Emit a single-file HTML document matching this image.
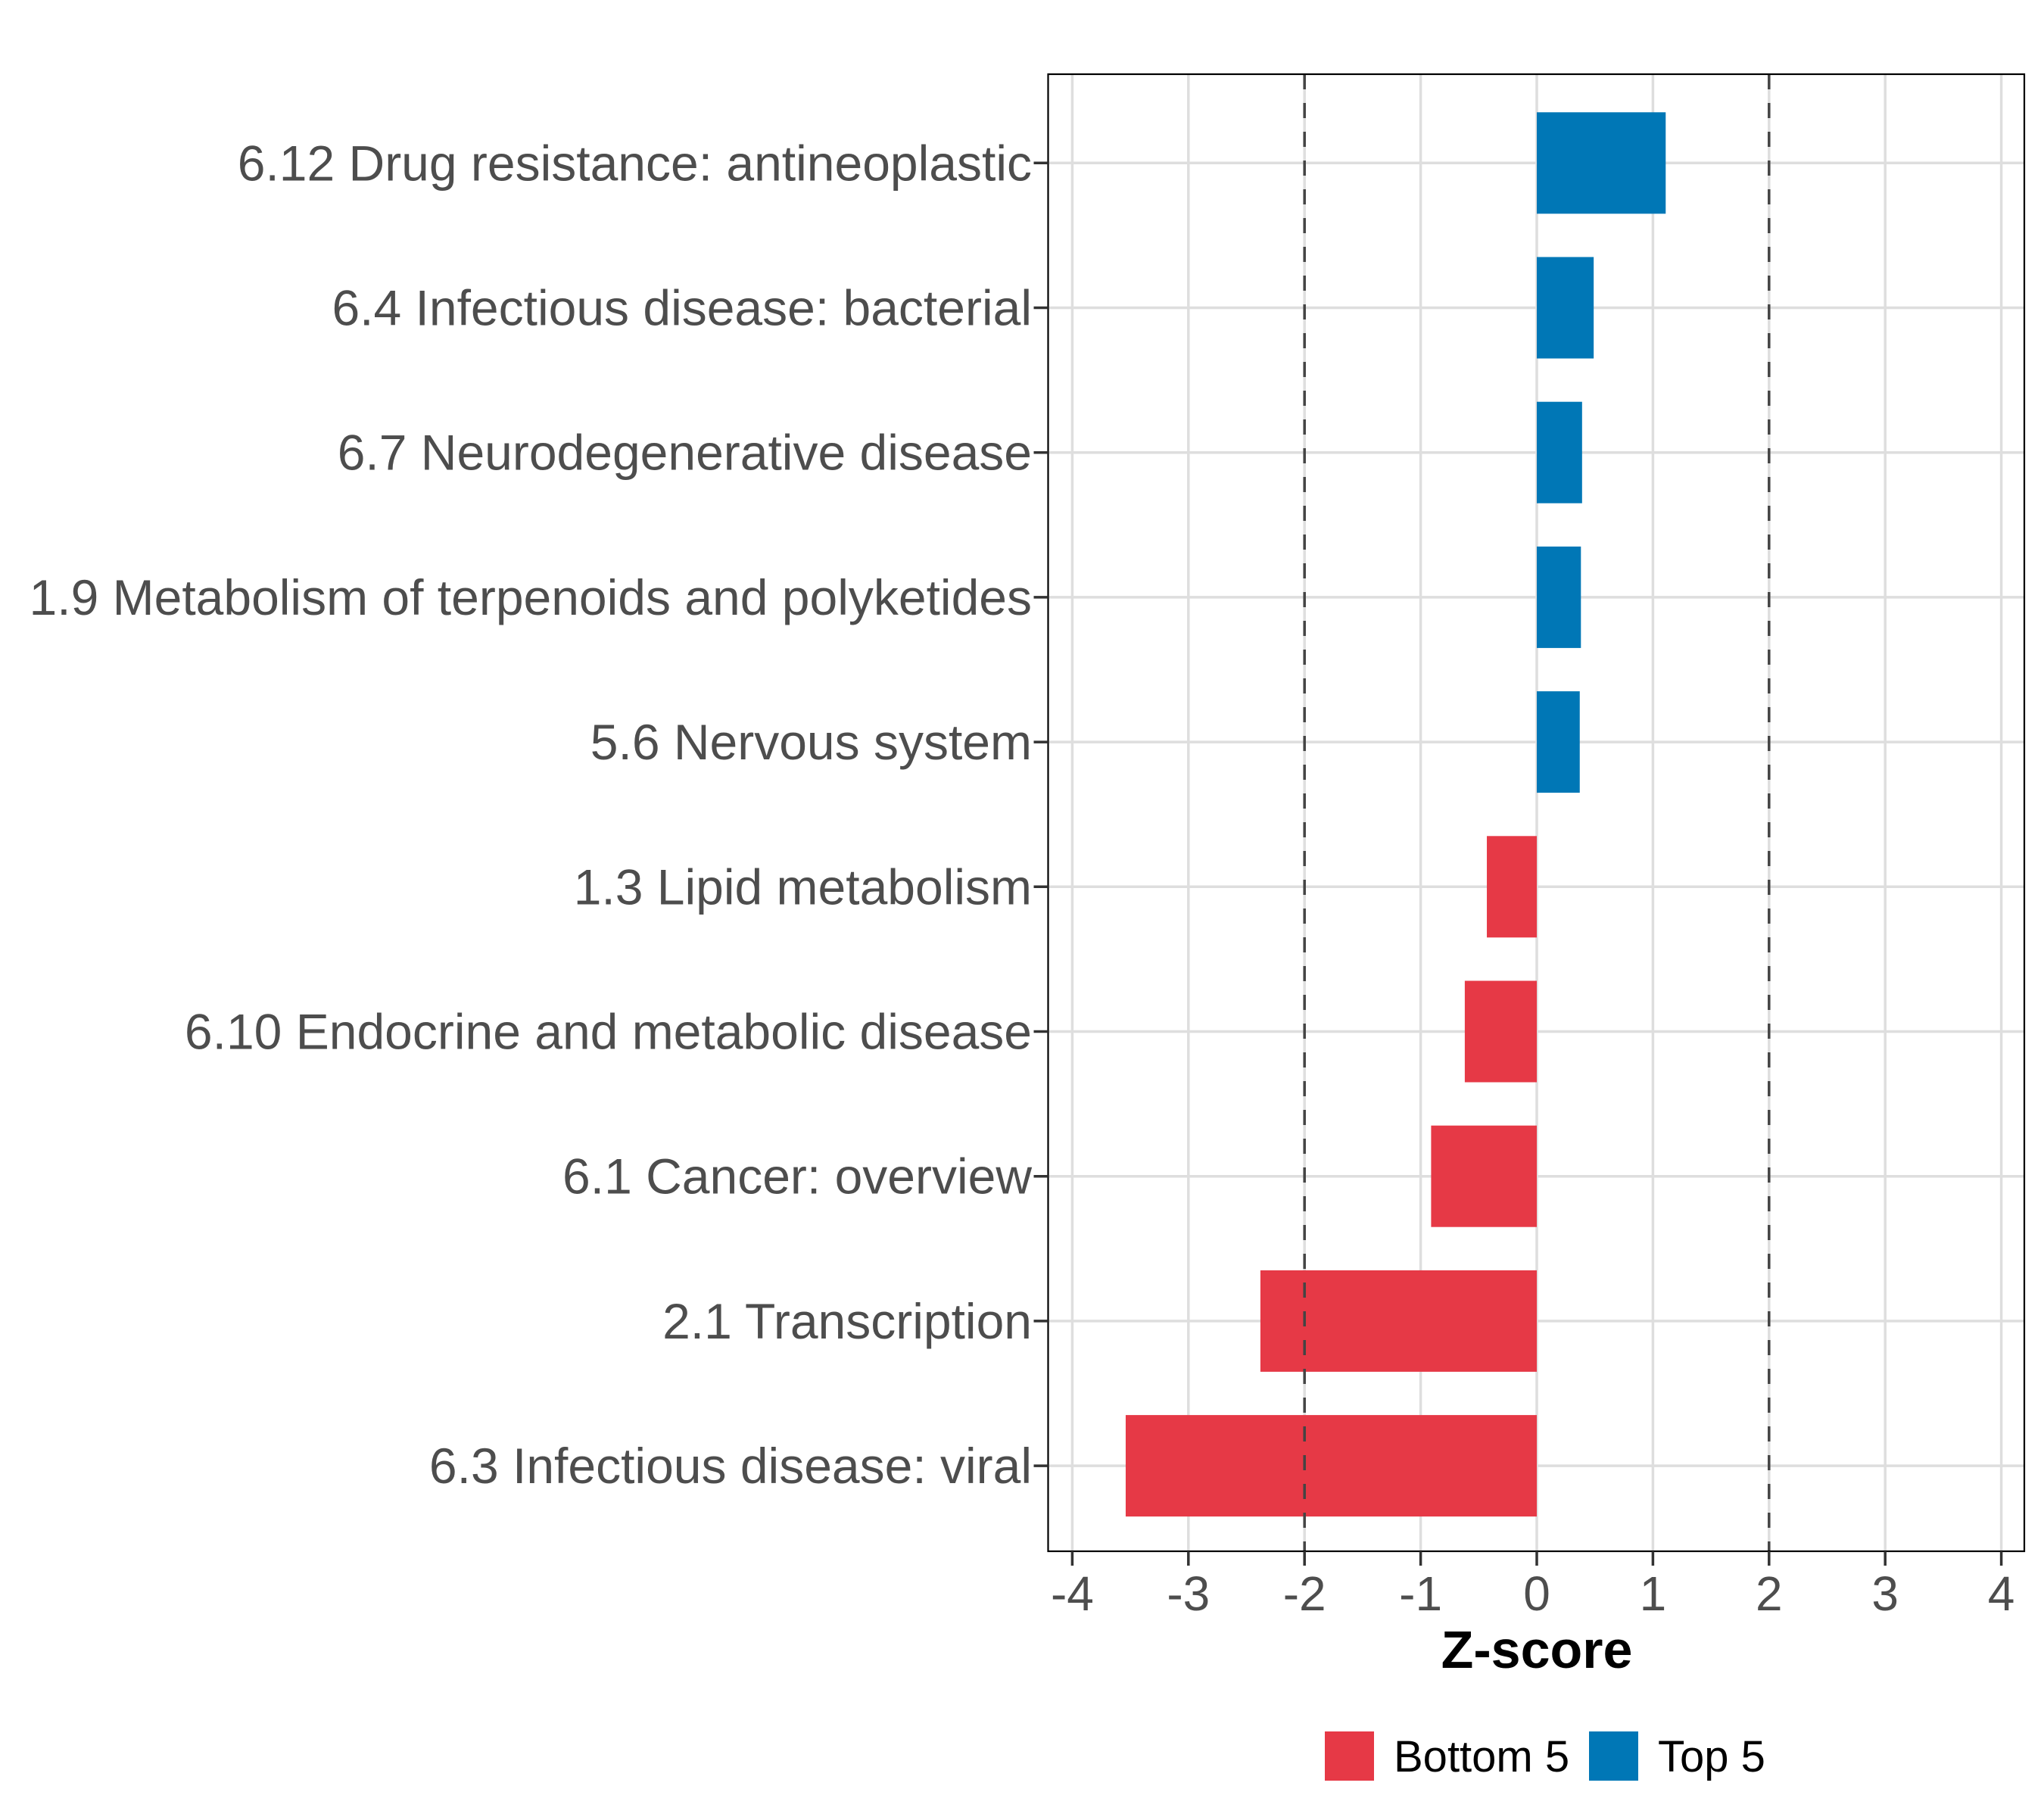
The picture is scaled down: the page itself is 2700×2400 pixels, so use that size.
<!DOCTYPE html>
<html><head><meta charset="utf-8"><style>
html,body{margin:0;padding:0;background:#fff;}
svg{display:block;font-family:"Liberation Sans",Arial,sans-serif;}
</style></head><body>
<svg id="chart" width="2700" height="2400" viewBox="0 0 2700 2400" xmlns="http://www.w3.org/2000/svg">
<g id="grid"></g>
<g id="bars"></g>
<g id="refs"></g>
<rect x="1384.5" y="98" width="1289.5" height="1951" fill="none" stroke="#000" stroke-width="2.2"/>
<g id="yaxis"></g>
<g id="xaxis"></g>
<text x="2030" y="2203" font-size="70" font-weight="bold" text-anchor="middle" fill="#000">Z-score</text>
<g>
<rect x="1750" y="2287" width="65" height="65" fill="#E63946"/>
<text x="1841" y="2340" font-size="58" fill="#000">Bottom 5</text>
<rect x="2099" y="2287" width="65" height="65" fill="#0077B6"/>
<text x="2190" y="2340" font-size="58" fill="#000">Top 5</text>
</g>
</svg>
<script>
const categories = ["6.12 Drug resistance: antineoplastic","6.4 Infectious disease: bacterial","6.7 Neurodegenerative disease","1.9 Metabolism of terpenoids and polyketides","5.6 Nervous system","1.3 Lipid metabolism","6.10 Endocrine and metabolic disease","6.1 Cancer: overview","2.1 Transcription","6.3 Infectious disease: viral"];
const values = [1.11, 0.49, 0.39, 0.38, 0.37, -0.43, -0.62, -0.91, -2.38, -3.54];
const groups = ["Top 5","Top 5","Top 5","Top 5","Top 5","Bottom 5","Bottom 5","Bottom 5","Bottom 5","Bottom 5"];
const xTicks = [-4,-3,-2,-1,0,1,2,3,4];
const refLines = [-2, 2];

const NS = "http://www.w3.org/2000/svg";
const PL=1384.5, PR=2674, PT=98, PB=2049;
const x = v => 2030 + v*153.4;
const y = i => 215.3 + i*191.2;
const colors = {"Top 5":"#0077B6","Bottom 5":"#E63946"};
function mk(tag, attrs, parent){const e=document.createElementNS(NS,tag);for(const k in attrs)e.setAttribute(k,attrs[k]);parent.appendChild(e);return e;}
const grid=document.getElementById('grid'), bars=document.getElementById('bars'), refs=document.getElementById('refs'), ya=document.getElementById('yaxis'), xa=document.getElementById('xaxis');
xTicks.forEach(t=>{
  const l=mk('line',{x1:x(t),x2:x(t),y1:PT,y2:PB,stroke:'#dedede','stroke-width':3.5},grid);
  
  
  const tk=mk('line',{x1:x(t),x2:x(t),y1:PB,y2:PB+19,stroke:'#333','stroke-width':3.5},xa);
  
  
  const tx=mk('text',{x:x(t),y:2127,'font-size':64,'text-anchor':'middle',fill:'#4d4d4d'},xa);
  tx.textContent=t;
  
  
});
categories.forEach((c,i)=>{
  const l=mk('line',{x1:PL,x2:PR,y1:y(i),y2:y(i),stroke:'#dedede','stroke-width':3.5},grid);
  
  
  const v=values[i];
  const r=mk('rect',{x:Math.min(x(0),x(v)),y:y(i)-67,width:Math.abs(x(v)-x(0)),height:134,fill:colors[groups[i]]},bars);
  
  
  const tk=mk('line',{x1:PL-19,x2:PL,y1:y(i),y2:y(i),stroke:'#333','stroke-width':3.5},ya);
  
  
  const tx=mk('text',{x:1363,y:y(i)+23,'font-size':66,'text-anchor':'end',fill:'#4d4d4d'},ya);
  tx.textContent=c;
  
  
});
refLines.forEach(v=>{
  const l=mk('line',{x1:x(v),x2:x(v),y1:PT,y2:PB,stroke:'#444','stroke-width':3.5,'stroke-dasharray':'20 18'},refs);
  
  
});
</script>
</body></html>
